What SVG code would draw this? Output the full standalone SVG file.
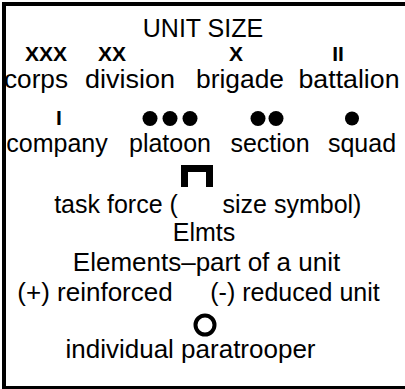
<svg xmlns="http://www.w3.org/2000/svg" width="405" height="389" viewBox="0 0 405 389">
<style>
text{font-family:"Liberation Sans",Arial,sans-serif;font-size:25px;fill:#000;text-anchor:middle}
.lg{font-size:26px}
.sym{font-weight:bold;font-size:21px}
.dot{fill:#000}
</style>
<rect x="0" y="0" width="405" height="389" fill="#fff"/>
<rect x="4" y="4" width="420" height="384" fill="none" stroke="#000" stroke-width="4"/>
<g id="title"><text x="203" y="37">UNIT SIZE</text></g>
<g id="corps"><text class="sym" x="46" y="61">XXX</text><text x="36" y="88" textLength="64" lengthAdjust="spacingAndGlyphs">corps</text></g>
<g id="division"><text class="sym" x="112" y="61">XX</text><text x="130" y="88" textLength="90" lengthAdjust="spacingAndGlyphs">division</text></g>
<g id="brigade"><text class="sym" x="236" y="61">X</text><text x="240" y="88" textLength="88" lengthAdjust="spacingAndGlyphs">brigade</text></g>
<g id="battalion"><text class="sym" x="338" y="61">II</text><text x="349" y="88" textLength="101" lengthAdjust="spacingAndGlyphs">battalion</text></g>
<g id="company"><text class="sym" x="59" y="125">I</text><text x="57" y="152">company</text></g>
<g id="platoon"><circle class="dot" cx="150" cy="118.5" r="7.5"/><circle class="dot" cx="170" cy="118.5" r="7.5"/><circle class="dot" cx="190" cy="118.5" r="7.5"/><text x="170" y="152">platoon</text></g>
<g id="section"><circle class="dot" cx="258" cy="118.5" r="7.5"/><circle class="dot" cx="276" cy="118.5" r="7.5"/><text x="270" y="152">section</text></g>
<g id="squad"><circle class="dot" cx="352" cy="118.5" r="7"/><text x="362" y="152">squad</text></g>
<g id="taskforce"><path d="M184.5 187 V168.5 H209.5 V187" fill="none" stroke="#000" stroke-width="7"/><text x="116" y="213">task force (</text><text x="292" y="213">size symbol)</text></g>
<g id="elmts"><text x="204" y="241">Elmts</text></g>
<g id="elements"><text class="lg" x="206.5" y="271">Elements–part of a unit</text></g>
<g id="reinforced"><text class="lg" x="95" y="300.5">(+) reinforced</text><text x="295" y="300.5">(-) reduced unit</text></g>
<g id="paratrooper"><circle cx="205" cy="325" r="9.5" fill="none" stroke="#000" stroke-width="4"/><text class="lg" x="190.5" y="358">individual paratrooper</text></g>
</svg>
